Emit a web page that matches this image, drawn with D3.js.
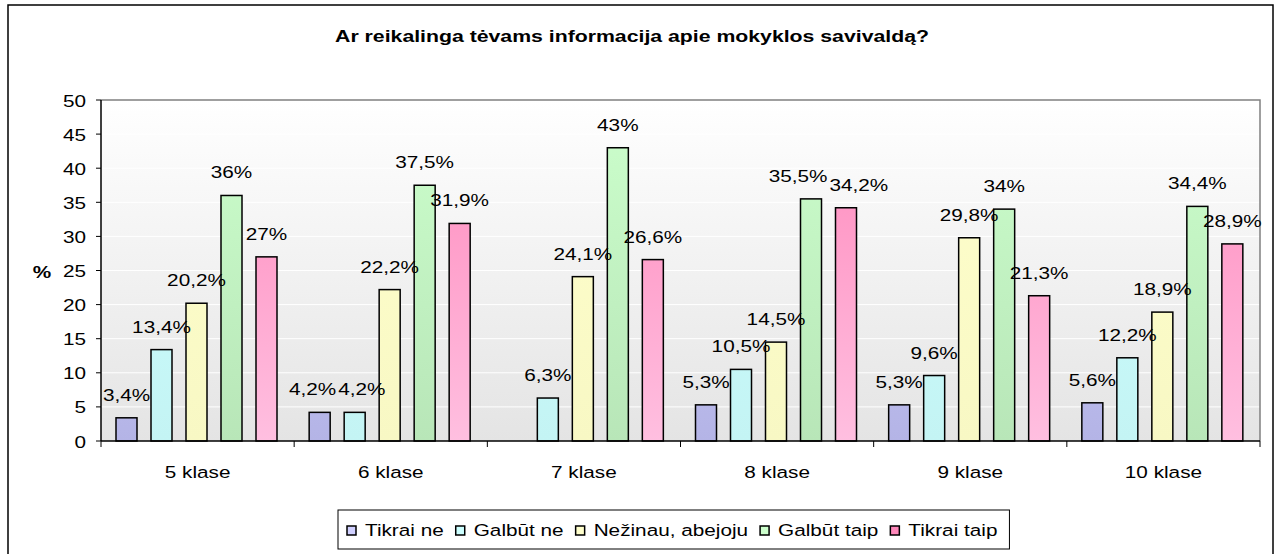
<!DOCTYPE html>
<html>
<head>
<meta charset="utf-8">
<script src="https://cdn.jsdelivr.net/npm/d3@7"></script>
<style>
  body { margin: 0; background: #fff; }
  svg { display: block; font-family: Arial, 'Liberation Sans', sans-serif; }
</style>
</head>
<body>
<svg id="chart" width="1284" height="554"></svg>
<script>
const classes = ['5 klase', '6 klase', '7 klase', '8 klase', '9 klase', '10 klase']
const answers = ['Tikrai ne', 'Galbūt ne', 'Nežinau, abejoju', 'Galbūt taip', 'Tikrai taip']
// one array per answer, values in % per class
const tikraiNe = [3.4, 4.2, null, 5.3, 5.3, 5.6]
const galbutNe = [13.4, 4.2, 6.3, 10.5, 9.6, 12.2]
const nezinau = [20.2, 22.2, 24.1, 14.5, 29.8, 18.9]
const galbutTaip = [36, 37.5, 43, 35.5, 34, 34.4]
const tikraiTaip = [27, 31.9, 26.6, 34.2, 21.3, 28.9]
const yTicks = [0, 5, 10, 15, 20, 25, 30, 35, 40, 45, 50]

const series = [tikraiNe, galbutNe, nezinau, galbutTaip, tikraiTaip]
// top / bottom colours of each series gradient
const fills = [
  ['#d0d0ff', '#b4b4e6'],
  ['#ccffff', '#c4f4f4'],
  ['#ffffcc', '#f8f8c4'],
  ['#ccffcc', '#b8e6b8'],
  ['#ff88bb', '#ffbfe0']
]

// the original text is drawn wider than it is tall
const SX = 1.22
const stretched = (x, y, sx = SX) => `translate(${x},${y}) scale(${sx},1)`

const svg = d3.select('#chart')
const plot = { left: 101, right: 1260, top: 100, bottom: 441 }

// outer frame
svg.append('rect')
  .attr('x', 8).attr('y', 5)
  .attr('width', 1265).attr('height', 560)
  .attr('fill', '#fff')
  .attr('stroke', '#000')
  .attr('stroke-width', 1.5)

const defs = svg.append('defs')
const bg = defs.append('linearGradient')
  .attr('id', 'bg')
  .attr('x1', 0).attr('y1', 0).attr('x2', 0).attr('y2', 1)
bg.append('stop').attr('offset', '0%').attr('stop-color', '#ffffff')
bg.append('stop').attr('offset', '100%').attr('stop-color', '#e4e4e4')

fills.forEach((f, i) => {
  const g = defs.append('linearGradient')
    .attr('id', 'fill' + i)
    .attr('gradientUnits', 'userSpaceOnUse')
    .attr('x1', 0).attr('y1', plot.top).attr('x2', 0).attr('y2', plot.bottom)
  g.append('stop').attr('offset', '0%').attr('stop-color', f[0])
  g.append('stop').attr('offset', '100%').attr('stop-color', f[1])
})

const x0 = d3.scaleBand()
  .domain(classes)
  .range([plot.left, plot.right])

const x1 = d3.scaleBand()
  .domain(d3.range(answers.length))
  .range([15, 176])
  .paddingInner(0.4)
  .paddingOuter(0)

const y = d3.scaleLinear()
  .domain([0, 50])
  .range([plot.bottom, plot.top])

// plot background
svg.append('rect')
  .attr('x', plot.left).attr('y', plot.top)
  .attr('width', plot.right - plot.left)
  .attr('height', plot.bottom - plot.top)
  .attr('fill', 'url(#bg)')

svg.append('g')
  .selectAll('line')
  .data(yTicks.slice(1))
  .enter()
  .append('line')
  .attr('x1', plot.left).attr('x2', plot.right)
  .attr('y1', d => y(d)).attr('y2', d => y(d))
  .attr('stroke', '#ffffff')
  .attr('stroke-width', 1)

// plot border (top / right)
svg.append('path')
  .attr('d', `M${plot.left},${plot.top}H${plot.right}V${plot.bottom}`)
  .attr('fill', 'none')
  .attr('stroke', '#808080')
  .attr('stroke-width', 1.5)

// bars
const bars = []
classes.forEach((c, ci) => {
  series.forEach((s, si) => {
    if (s[ci] != null) bars.push({ c, si, v: s[ci] })
  })
})

const fmt = v => d3.format('~f')(v).replace('.', ',') + '%'

svg.append('g')
  .selectAll('rect')
  .data(bars)
  .enter()
  .append('rect')
  .attr('x', d => x0(d.c) + x1(d.si))
  .attr('y', d => y(d.v))
  .attr('width', x1.bandwidth())
  .attr('height', d => y(0) - y(d.v))
  .attr('fill', d => `url(#fill${d.si})`)
  .attr('stroke', '#000')
  .attr('stroke-width', 1.5)

// value labels, pushed sideways where they collide
const labels = svg.append('g')
  .selectAll('text')
  .data(bars)
  .enter()
  .append('text')
  .attr('text-anchor', 'middle')
  .attr('font-size', '17px')
  .attr('fill', '#000')
  .text(d => fmt(d.v))
  .each(function (d) {
    d.lx = x0(d.c) + x1(d.si) + x1.bandwidth() / 2
    d.ly = y(d.v) - 17
    d.w = this.getComputedTextLength() * SX + 2
  })

for (let it = 0; it < 30; it++) {
  bars.forEach((a, i) => {
    bars.forEach((b, j) => {
      if (j <= i) return
      const dx = Math.abs(a.lx - b.lx)
      const overlapX = (a.w + b.w) / 2 - dx
      if (overlapX > 0 && Math.abs(a.ly - b.ly) < 16) {
        const s = a.lx <= b.lx ? 1 : -1
        a.lx -= s * overlapX / 2
        b.lx += s * overlapX / 2
      }
    })
  })
}
labels.attr('transform', d => stretched(d.lx, d.ly))

// axes
svg.append('line')
  .attr('x1', plot.left).attr('x2', plot.left)
  .attr('y1', plot.top).attr('y2', plot.bottom)
  .attr('stroke', '#000').attr('stroke-width', 1.5)

svg.append('g')
  .selectAll('line')
  .data(yTicks)
  .enter()
  .append('line')
  .attr('x1', plot.left - 5).attr('x2', plot.left)
  .attr('y1', d => y(d)).attr('y2', d => y(d))
  .attr('stroke', '#000')

svg.append('g')
  .selectAll('text')
  .data(yTicks)
  .enter()
  .append('text')
  .attr('transform', d => stretched(86, y(d) + 6.5))
  .attr('text-anchor', 'end')
  .attr('font-size', '17px')
  .text(d => d)

svg.append('line')
  .attr('x1', plot.left).attr('x2', plot.right)
  .attr('y1', plot.bottom).attr('y2', plot.bottom)
  .attr('stroke', '#000').attr('stroke-width', 1.5)

svg.append('g')
  .selectAll('line')
  .data(classes.concat([null]))
  .enter()
  .append('line')
  .attr('x1', d => d ? x0(d) : plot.right)
  .attr('x2', d => d ? x0(d) : plot.right)
  .attr('y1', plot.bottom).attr('y2', plot.bottom + 6)
  .attr('stroke', '#000')

svg.append('g')
  .selectAll('text')
  .data(classes)
  .enter()
  .append('text')
  .attr('transform', d => stretched(x0(d) + x0.bandwidth() / 2, plot.bottom + 37))
  .attr('text-anchor', 'middle')
  .attr('font-size', '17px')
  .text(d => d)

svg.append('text')
  .attr('transform', stretched(42, 278))
  .attr('text-anchor', 'middle')
  .attr('font-size', '17px')
  .attr('font-weight', 'bold')
  .text('%')

svg.append('text')
  .attr('transform', stretched(632, 42, 1.25))
  .attr('text-anchor', 'middle')
  .attr('font-size', '17px')
  .attr('font-weight', 'bold')
  .text('Ar reikalinga tėvams informacija apie mokyklos savivaldą?')

// legend
const legend = svg.append('g')
const legendBox = legend.append('rect')
  .attr('y', 510).attr('height', 39)
  .attr('fill', '#fff')
  .attr('stroke', '#000')
  .attr('stroke-width', 1)

let lx = 347
answers.forEach((a, i) => {
  legend.append('rect')
    .attr('x', lx).attr('y', 526)
    .attr('width', 9).attr('height', 9)
    .attr('fill', fills[i][0])
    .attr('stroke', '#000')
    .attr('stroke-width', 1.5)
  const t = legend.append('text')
    .attr('transform', stretched(lx + 18, 536))
    .attr('font-size', '17px')
    .text(a)
  lx += 18 + t.node().getComputedTextLength() * SX + 12
})
legendBox.attr('x', 338).attr('width', lx - 338)
</script>
</body>
</html>
